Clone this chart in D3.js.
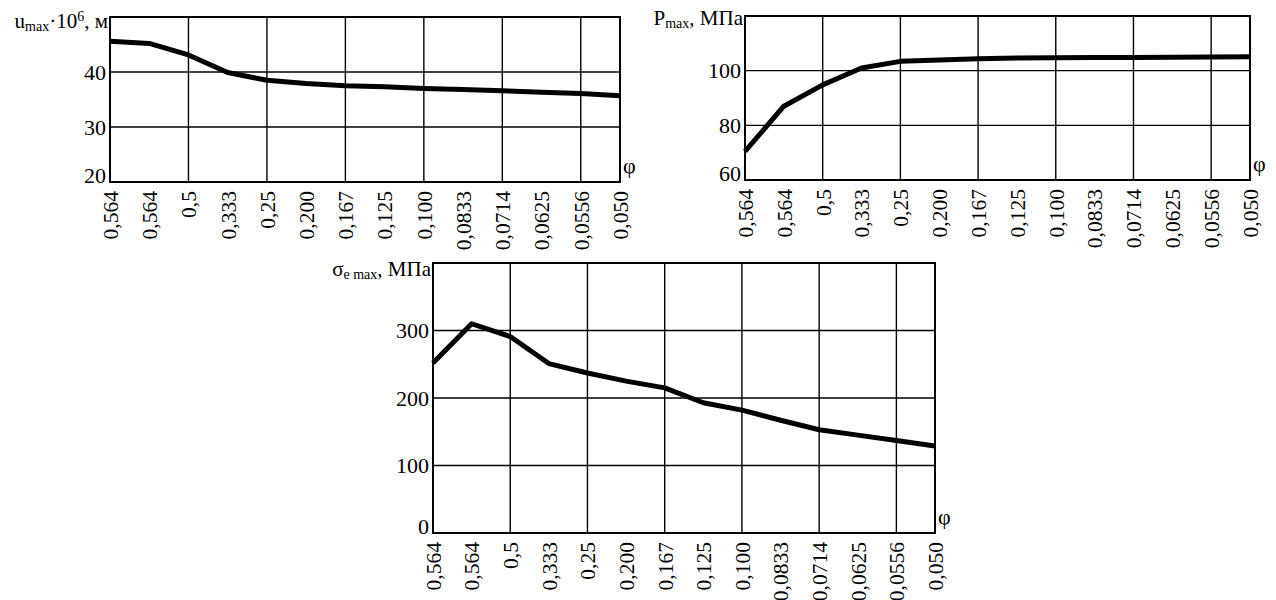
<!DOCTYPE html>
<html>
<head>
<meta charset="utf-8">
<script src="https://cdn.jsdelivr.net/npm/d3@7"></script>
<style>
  html, body { margin: 0; padding: 0; background: #fff; }
  svg { display: block; }
  text { font-family: "Liberation Serif", "Times New Roman", serif; fill: #000; }
</style>
</head>
<body>
<svg id="chart" width="1276" height="600"></svg>
<script>
// ---- data ----
const categories = ["0,564","0,564","0,5","0,333","0,25","0,200","0,167","0,125","0,100","0,0833","0,0714","0,0625","0,0556","0,050"];
const uMax     = [45.6, 45.2, 43.1, 39.9, 38.5, 37.9, 37.5, 37.3, 37.0, 36.8, 36.6, 36.3, 36.1, 35.7];
const pMax     = [70.5, 87.0, 94.8, 101.0, 103.4, 103.9, 104.4, 104.6, 104.7, 104.8, 104.8, 104.9, 105.0, 105.1];
const sigmaMax = [252, 310, 291, 251, 237, 225, 215, 193, 182, 167, 153, 145, 137, 129];
const uTicks     = [20, 30, 40];
const pTicks     = [60, 80, 100];
const sigmaTicks = [0, 100, 200, 300];
const gridEvery = [2, 4, 6, 8, 10, 12];

const svg = d3.select("#chart");
svg.append("rect").attr("width", 1276).attr("height", 600).attr("fill", "#fff");

function drawChart(cfg) {
  const g = svg.append("g");
  const x = d3.scalePoint().domain(d3.range(categories.length)).range([cfg.left, cfg.right]);
  const y = d3.scaleLinear().domain(cfg.domain).range([cfg.bottom, cfg.top]);

  // grid
  g.selectAll("line.vg").data(gridEvery).join("line")
    .attr("x1", d => x(d)).attr("x2", d => x(d))
    .attr("y1", cfg.top).attr("y2", cfg.bottom)
    .attr("stroke", "#000").attr("stroke-width", 1.4);
  g.selectAll("line.hg").data(cfg.ticks.slice(1)).join("line")
    .attr("x1", cfg.left).attr("x2", cfg.right)
    .attr("y1", d => y(d)).attr("y2", d => y(d))
    .attr("stroke", "#000").attr("stroke-width", 1.4);

  // frame
  g.append("rect")
    .attr("x", cfg.left).attr("y", cfg.top)
    .attr("width", cfg.right - cfg.left).attr("height", cfg.bottom - cfg.top)
    .attr("fill", "none").attr("stroke", "#000").attr("stroke-width", 2);

  // x axis
  const xa = g.append("g").attr("transform", `translate(0,${cfg.bottom})`)
    .call(d3.axisBottom(x).tickSize(0).tickFormat(i => categories[i]));
  xa.attr("font-family", null).attr("font-size", null);
  xa.select(".domain").remove();
  xa.selectAll("text")
    .attr("transform", "rotate(-90)")
    .attr("x", -9).attr("y", 0).attr("dy", "0.34em")
    .attr("text-anchor", "end")
    .style("font-size", "21.5px");

  // y axis
  const ya = g.append("g").attr("transform", `translate(${cfg.left},0)`)
    .call(d3.axisLeft(y).tickValues(cfg.ticks).tickSize(0).tickPadding(4));
  ya.attr("font-family", null).attr("font-size", null);
  ya.select(".domain").remove();
  ya.selectAll("text")
    .style("font-size", "22px")
    .attr("dy", d => d === cfg.ticks[0] ? "0" : "0.33em");

  // data line
  g.append("path").datum(cfg.values)
    .attr("d", d3.line().x((d, i) => x(i)).y(d => y(d)))
    .attr("fill", "none").attr("stroke", "#000")
    .attr("stroke-width", 5).attr("stroke-linejoin", "round");

  // phi label
  g.append("text").attr("x", cfg.right + 3).attr("y", cfg.bottom - 9)
    .style("font-size", "22px").text("φ");

  // title
  const t = g.append("text").attr("x", cfg.left - 2).attr("y", cfg.titleY)
    .attr("text-anchor", "end").style("font-size", "21px");
  cfg.title.forEach(p => {
    const ts = t.append("tspan").text(p.t);
    if (p.small) ts.style("font-size", "14px");
    if (p.dy) ts.attr("dy", p.dy);
  });
}

drawChart({
  left: 110, right: 620, top: 17, bottom: 182, domain: [20, 50],
  ticks: uTicks, values: uMax, titleY: 28,
  title: [{t: "u"}, {t: "max", small: true, dy: 3}, {t: "·10", dy: -3}, {t: "6", small: true, dy: -7}, {t: ", м", dy: 7}]
});
drawChart({
  left: 745, right: 1250, top: 16, bottom: 180, domain: [60, 120],
  ticks: pTicks, values: pMax, titleY: 25,
  title: [{t: "P"}, {t: "max", small: true, dy: 3}, {t: ", МПа", dy: -3}]
});
drawChart({
  left: 433, right: 935, top: 263, bottom: 533, domain: [0, 400],
  ticks: sigmaTicks, values: sigmaMax, titleY: 276,
  title: [{t: "σ"}, {t: "e max", small: true, dy: 3}, {t: ", МПа", dy: -3}]
});
</script>
</body>
</html>
